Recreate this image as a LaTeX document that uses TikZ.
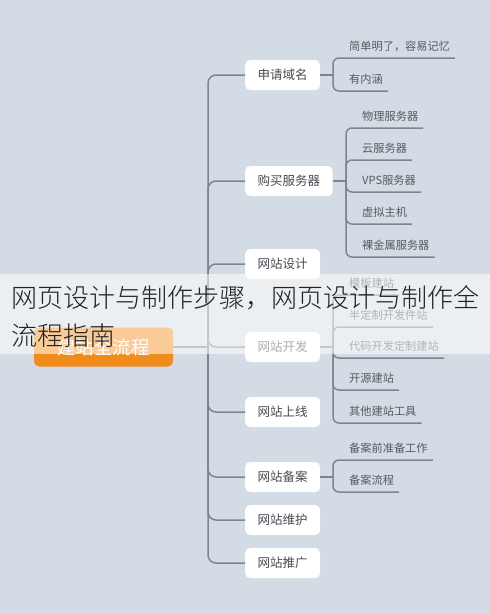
\documentclass[tikz,border=0pt]{standalone}
\usepackage{fontspec}
\setmainfont{Noto Sans CJK SC}
\IfFontExistsTF{Noto Sans CJK SC Light}{\newfontfamily\titlefont{Noto Sans CJK SC Light}}{\newfontfamily\titlefont{Noto Sans CJK SC}}
\definecolor{bgc}{HTML}{D3DCE4}
\definecolor{linec}{HTML}{7C8691}
\definecolor{txtmain}{HTML}{454B51}
\definecolor{txtleaf}{HTML}{555B61}
\definecolor{orangec}{HTML}{F08C1C}
\definecolor{titlec}{HTML}{222222}
\begin{document}
\begin{tikzpicture}[x=1pt,y=-1pt,
  mainbox/.style={fill=white, rounded corners=5pt, inner xsep=12.5pt, inner ysep=0pt, minimum height=30pt, font=\fontsize{12.5}{14}\selectfont, text=txtmain, anchor=west},
  leaf/.style={inner xsep=5pt, inner ysep=0pt, text depth=7.8pt, anchor=south west, font=\fontsize{11.2}{13}\selectfont, text=txtleaf},
  conn/.style={draw=linec, line width=1.5pt},
  bracket/.style={conn, rounded corners=6pt},
  trunk/.style={conn, rounded corners=8pt},
  centerbox/.style={fill=orangec, rounded corners=5pt, minimum width=139pt, minimum height=39pt, inner sep=0pt, text=white, font=\fontsize{18.4}{20}\selectfont},
  titletext/.style={anchor=west, inner sep=0pt, text=titlec, font=\titlefont\fontsize{26}{30}\selectfont}
]
\useasboundingbox (0,0) rectangle (490,614);
\fill[bgc] (0,0) rectangle (490,614);

% central node
\node[centerbox] (c) at (103.5,347) {建站全流程};
\coordinate (tr) at (208,347);

% main nodes
\node[mainbox] (m1) at (245,75) {申请域名};
\node[mainbox] (m2) at (245,181) {购买服务器};
\node[mainbox] (m3) at (245,264) {网站设计};
\node[mainbox] (m4) at (245,347) {网站开发};
\node[mainbox] (m5) at (245,412) {网站上线};
\node[mainbox] (m6) at (245,477) {网站备案};
\node[mainbox] (m7) at (245,520) {网站维护};
\node[mainbox] (m8) at (245,563) {网站推广};

\draw[conn] (c.east) -- (tr);
\foreach \m in {m1,m2,m3,m4,m5,m6,m7,m8} {
  \draw[trunk] (tr) |- (\m.west);
}

% brackets
\coordinate (b1) at (333,75);
\coordinate (b2) at (346,181);
\coordinate (b4) at (333,347);
\coordinate (b6) at (333,477);
\draw[conn] (m1.east) -- (b1);
\draw[conn] (m2.east) -- (b2);
\draw[conn] (m4.east) -- (b4);
\draw[conn] (m6.east) -- (b6);

% leaves of 申请域名
\node[leaf] (l11) at (344,58) {简单明了，容易记忆};
\node[leaf] (l12) at (344,91) {有内涵};
% leaves of 购买服务器
\node[leaf] (l21) at (357,128) {物理服务器};
\node[leaf] (l22) at (357,160) {云服务器};
\node[leaf] (l23) at (357,192) {VPS服务器};
\node[leaf] (l24) at (357,224) {虚拟主机};
\node[leaf] (l25) at (357,257) {裸金属服务器};
% leaves of 网站开发
\node[leaf] (l41) at (344,295) {模板建站};
\node[leaf] (l42) at (344,327) {半定制开发件站};
\node[leaf] (l43) at (344,358) {代码开发定制建站};
\node[leaf] (l44) at (344,390) {开源建站};
\node[leaf] (l45) at (344,423) {其他建站工具};
% leaves of 网站备案
\node[leaf] (l61) at (344,460) {备案前准备工作};
\node[leaf] (l62) at (344,492) {备案流程};

\foreach \l in {l11,l12} { \draw[bracket] (b1) |- (\l.south east); }
\foreach \l in {l21,l22,l23,l24,l25} { \draw[bracket] (b2) |- (\l.south east); }
\foreach \l in {l41,l42,l43,l44,l45} { \draw[bracket] (b4) |- (\l.south east); }
\foreach \l in {l61,l62} { \draw[bracket] (b6) |- (\l.south east); }

% translucent banner with title
\fill[white, opacity=0.55] (0,274) rectangle (490,354);
\node[titletext] (t1) at (11,298) {网页设计与制作步骤，网页设计与制作全};
\node[titletext] (t2) at (11,336) {流程指南};
\end{tikzpicture}
\end{document}
